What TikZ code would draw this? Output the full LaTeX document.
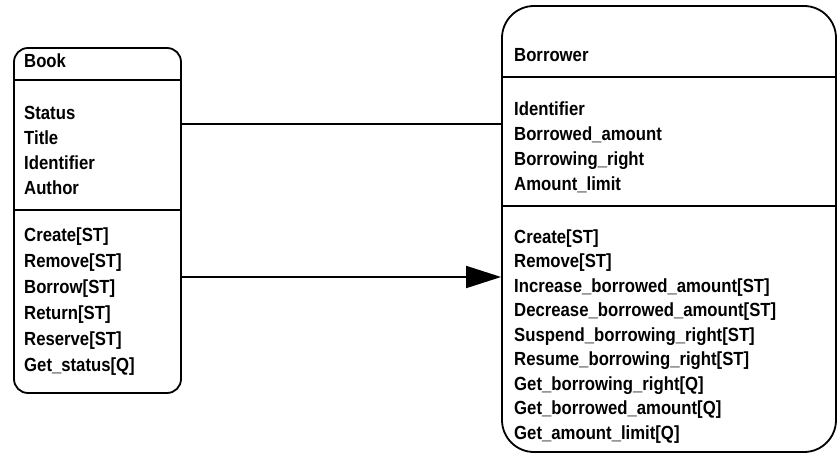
\documentclass[tikz,border=0pt]{standalone}
\usepackage{fontspec}
\setmainfont{Liberation Sans}[FakeStretch=0.88]
\usetikzlibrary{arrows.meta}

\begin{document}
\begin{tikzpicture}[x=1pt,y=-1pt]
\tikzset{
  clsbox/.style={draw=black, line width=1.8pt, inner sep=0pt},
  sepline/.style={draw=black, line width=1.8pt},
  txt/.style={inner sep=0pt, anchor=base west, font=\fontsize{19}{22}\selectfont\bfseries},
  assoc/.style={draw=black, line width=1.8pt}
}
\useasboundingbox (0,0) rectangle (840,460);

% class Book
\node [clsbox, rounded corners=14pt, minimum width=167pt, minimum height=345pt] (book) at (97.5,220.5) {};
\draw [sepline] (book.west |- 0,80) -- (book.east |- 0,80);
\draw [sepline] (book.west |- 0,210) -- (book.east |- 0,210);
\node [txt] (bookname) at (24,67) {Book};
\foreach \t [count=\i] in {Status,Title,Identifier,Author}
  \node [txt] (bookattr\i) at (24,{119+25*(\i-1)}) {\t};
\foreach \t [count=\i] in {Create[ST],Remove[ST],Borrow[ST],Return[ST],Reserve[ST],Get\_status[Q]}
  \node [txt] (bookop\i) at (24,{241+26*(\i-1)}) {\t};

% class Borrower
\node [clsbox, rounded corners=32pt, minimum width=334pt, minimum height=446pt] (borrower) at (669,229) {};
\draw [sepline] (borrower.west |- 0,77) -- (borrower.east |- 0,77);
\draw [sepline] (borrower.west |- 0,206) -- (borrower.east |- 0,206);
\node [txt] (borrowername) at (514,62) {Borrower};
\foreach \t [count=\i] in {Identifier,Borrowed\_amount,Borrowing\_right,Amount\_limit}
  \node [txt] (borrowerattr\i) at (514,{115+25*(\i-1)}) {\t};
\foreach \t [count=\i] in {Create[ST],Remove[ST],Increase\_borrowed\_amount[ST],Decrease\_borrowed\_amount[ST],Suspend\_borrowing\_right[ST],Resume\_borrowing\_right[ST],Get\_borrowing\_right[Q],Get\_borrowed\_amount[Q],Get\_amount\_limit[Q]}
  \node [txt] (borrowerop\i) at (514,{243+24.5*(\i-1)}) {\t};

% associations
\coordinate (attrlink) at (0,124);
\coordinate (oplink) at (0,277);
\draw [assoc] (book.east |- attrlink) -- (borrower.west |- attrlink);
\draw [assoc, -{Triangle[length=35pt,width=22pt]}] (book.east |- oplink) -- (borrower.west |- oplink);
\end{tikzpicture}
\end{document}
